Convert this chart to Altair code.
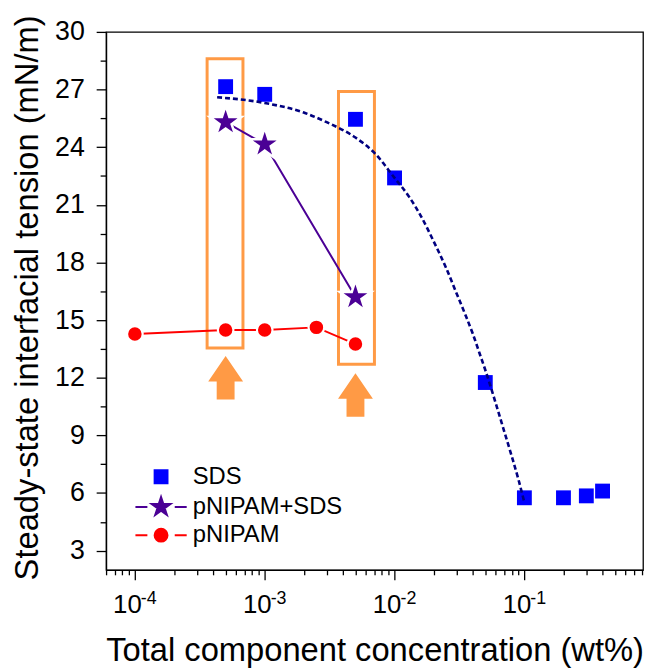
import altair as alt
import pandas as pd

# ---------------- data ----------------
sds_x = [5e-4, 1e-3, 5e-3, 1e-2, 5e-2, 0.1, 0.2, 0.3, 0.4]
sds_y = [27.15, 26.75, 25.45, 22.4, 11.75, 5.75, 5.75, 5.85, 6.1]

mix_x = [5e-4, 1e-3, 5e-3]
mix_y = [25.3, 24.15, 16.2]

pn_x = [1e-4, 5e-4, 1e-3, 2.5e-3, 5e-3]
pn_y = [14.28, 14.48, 14.48, 14.62, 13.75]

fit_x = [4.3e-4, 1e-3, 2e-3, 3e-3, 5e-3, 7e-3, 1e-2, 1.3e-2, 1.6e-2, 2e-2, 2.5e-2,
         3e-2, 3.5e-2, 4e-2, 4.5e-2, 5e-2, 6e-2, 7e-2, 8e-2, 9e-2, 1e-1]
fit_y = [26.6, 26.3, 25.8, 25.3, 24.5, 23.7, 22.4, 21.4, 20.4, 19.1, 17.7,
         16.4, 15.3, 14.3, 13.3, 12.4, 10.7, 9.2, 7.9, 6.7, 5.5]

box_x1 = [3.6e-4, 3.7e-3]
box_x2 = [6.8e-4, 7.0e-3]
box_y1 = [13.55, 12.7]
box_y2 = [28.6, 26.9]

arrow_x = [5e-4, 5e-3]
arrow_y = [12.0, 11.1]

series = ["SDS", "pNIPAM+SDS", "pNIPAM"]
series_colors = ["#0000FF", "#4B0095", "#FF0000"]

x_major = [0.0001, 0.001, 0.01, 0.1]
x_major_base = "10"
x_exponents = ["-4", "-3", "-2", "-1"]
x_minor = ([m * 1e-5 for m in (6, 7, 8, 9)] + [m * 1e-4 for m in range(2, 10)] +
           [m * 1e-3 for m in range(2, 10)] + [m * 1e-2 for m in range(2, 10)] +
           [m * 1e-1 for m in range(2, 9)])
y_ticks = [3 + 1.5 * i for i in range(19)]

# ---------------- styling ----------------
FONT = "Liberation Sans"
ORANGE = "#FF9A45"
W, H = 542, 543

STAR = ("M0,-1L0.225,-0.309L0.951,-0.309L0.363,0.118L0.588,0.809L0,0.382"
        "L-0.588,0.809L-0.363,0.118L-0.951,-0.309L-0.225,-0.309Z")
ARROW = "M0,-1L0.8,0.17L0.41,0.17L0.41,1L-0.41,1L-0.41,0.17L-0.8,0.17Z"


def scaled_star(k):
    pts = [(0, -1), (0.225, -0.309), (0.951, -0.309), (0.363, 0.118), (0.588, 0.809),
           (0, 0.382), (-0.588, 0.809), (-0.363, 0.118), (-0.951, -0.309), (-0.225, -0.309)]
    return "M" + "L".join(f"{px * k:.3f},{py * k:.3f}" for px, py in pts) + "Z"


SEG = "M-2.25,0L-1.2,0M1.2,0L2.25,0"
r = 0.565
LEG_SQUARE = f"M-{r},-{r}L{r},-{r}L{r},{r}L-{r},{r}Z"
LEG_STAR = scaled_star(0.87) + SEG
LEG_CIRCLE = f"M-{r},0A{r},{r},0,1,1,{r},0A{r},{r},0,1,1,-{r},0Z" + SEG

major_test = "indexof([" + ",".join(repr(v) for v in x_major) + "], datum.value) >= 0"

xaxis = alt.Axis(
    values=x_major + x_minor,
    labelExpr=f"{major_test} ? '{x_major_base}' : ''",
    tickSize={"condition": {"test": major_test, "value": 10}, "value": 5},
    labelPadding=12, labelOffset=-8,
    labelFont=FONT, labelFontSize=26, labelColor="black",
    title="Total component concentration (wt%)",
    titleFont=FONT, titleFontSize=33, titleFontWeight="normal", titleColor="black",
    titleY=92, titleBaseline="alphabetic",
    grid=False, domainColor="black", domainWidth=1.3, tickColor="black", tickWidth=1.3,
)
yaxis = alt.Axis(
    values=y_ticks,
    labelExpr="datum.value % 3 == 0 ? format(datum.value, '.0f') : ''",
    tickSize={"condition": {"test": "datum.value % 3 == 0", "value": 10}, "value": 6},
    labelPadding=12,
    labelFont=FONT, labelFontSize=27, labelColor="black",
    title="Steady-state interfacial tension (mN/m)",
    titleFont=FONT, titleFontSize=33, titleFontWeight="normal", titleColor="black",
    titleX=-69, titleY=268, titleBaseline="alphabetic",
    grid=False, domainColor="black", domainWidth=1.3, tickColor="black", tickWidth=1.3,
)
xscale = alt.Scale(type="log", domain=[6e-5, 0.82])
yscale = alt.Scale(domain=[2, 30])

X = alt.X("x:Q", scale=xscale, axis=xaxis)
Y = alt.Y("y:Q", scale=yscale, axis=yaxis)

sds_df = pd.DataFrame({"x": sds_x, "y": sds_y})
mix_df = pd.DataFrame({"x": mix_x, "y": mix_y})
pn_df = pd.DataFrame({"x": pn_x, "y": pn_y})
fit_df = pd.DataFrame({"x": fit_x, "y": fit_y})
box_df = pd.DataFrame({"x": box_x1, "x2": box_x2, "y": box_y1, "y2": box_y2})
arrow_df = pd.DataFrame({"x": arrow_x, "y": arrow_y})
sup_df = pd.DataFrame({"x": x_major, "t": x_exponents})
legend_df = pd.DataFrame({"series": series})

boxes = alt.Chart(box_df).mark_rect(filled=False, stroke=ORANGE, strokeWidth=3).encode(
    x=X, x2="x2:Q", y=Y, y2="y2:Q")
arrows = alt.Chart(arrow_df).mark_point(shape=ARROW, filled=True, fill=ORANGE, size=1936,
                                        opacity=1, strokeWidth=0).encode(x=X, y=Y)
sds_pts = alt.Chart(sds_df).mark_point(shape="square", filled=True, color=series_colors[0],
                                       size=225, opacity=1).encode(x=X, y=Y)
fit_line = alt.Chart(fit_df).mark_line(color="#000080", strokeWidth=2.6, interpolate="monotone",
                                       strokeDash=[5, 3]).encode(x=X, y=Y)

pn_line = alt.Chart(pn_df).mark_line(color=series_colors[2], strokeWidth=2).encode(x=X, y=Y)
pn_halo = alt.Chart(pn_df).mark_point(shape="circle", filled=True, color="white",
                                      size=320, opacity=1).encode(x=X, y=Y)
pn_pts = alt.Chart(pn_df).mark_point(shape="circle", filled=True, color=series_colors[2],
                                     size=185, opacity=1).encode(x=X, y=Y)

mix_line = alt.Chart(mix_df).mark_line(color=series_colors[1], strokeWidth=2).encode(x=X, y=Y)
mix_halo = alt.Chart(mix_df).mark_point(shape=STAR, filled=True, fill="white", stroke="white",
                                        strokeWidth=5, size=636, opacity=1).encode(x=X, y=Y)
mix_pts = alt.Chart(mix_df).mark_point(shape=STAR, filled=True, color=series_colors[1],
                                       size=636, opacity=1).encode(x=X, y=Y)

sup_text = alt.Chart(sup_df).mark_text(align="left", baseline="alphabetic", font=FONT,
                                       fontSize=18, color="black", dx=6).encode(
    x=X, y=alt.value(H + 34.7), text="t:N")

leg = alt.Legend(
    orient="none", legendX=43, legendY=436.5, title=None, padding=0,
    labelFont=FONT, labelFontSize=24, labelColor="black", labelLimit=400,
    symbolSize=529, symbolStrokeWidth=2, symbolOpacity=1,
    labelOffset=19.5, symbolOffset=0, rowPadding=3.5,
)
legend_layer = alt.Chart(legend_df).mark_point(filled=True, opacity=1, strokeWidth=2).encode(
    fill=alt.Fill("series:N", scale=alt.Scale(domain=series, range=series_colors), legend=leg),
    stroke=alt.Stroke("series:N", scale=alt.Scale(domain=series, range=series_colors), legend=leg),
    shape=alt.Shape("series:N", scale=alt.Scale(domain=series, range=[LEG_SQUARE, LEG_STAR, LEG_CIRCLE]),
                    legend=leg),
).transform_filter("false")

chart = alt.layer(
    boxes, arrows, sds_pts, fit_line, pn_line, pn_halo, pn_pts,
    mix_line, mix_halo, mix_pts, sup_text, legend_layer,
).properties(
    width=W, height=H,
    autosize=alt.AutoSizeParams(type="none"),
    padding={"left": 99, "top": 21, "right": 3, "bottom": 100},
    background="white",
).configure_view(stroke="black", strokeWidth=1.3)

chart.save("out.html", embed_options={"renderer": "svg", "actions": False})
